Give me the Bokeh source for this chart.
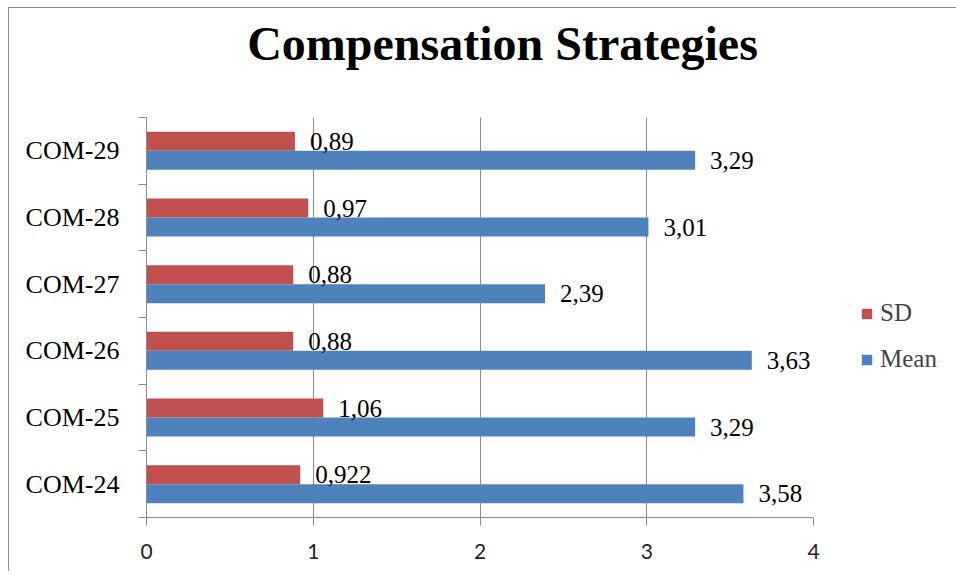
from bokeh.plotting import figure
from bokeh.models import (Range1d, FixedTicker, Legend, LegendItem, ColumnDataSource, Label)
from bokeh.transform import dodge
from bokeh.core.properties import value
from bokeh.embed import file_html
from bokeh.resources import INLINE

# ---- data ----
categories = ["COM-24", "COM-25", "COM-26", "COM-27", "COM-28", "COM-29"]
sd_values = [0.922, 1.06, 0.88, 0.88, 0.97, 0.89]
mean_values = [3.58, 3.29, 3.63, 2.39, 3.01, 3.29]
x_ticks = [0, 1, 2, 3, 4]
series_names = ["SD", "Mean"]
chart_title = "Compensation Strategies"

SERIF = "Liberation Serif"
SD_COLOR = "#C0504D"
MEAN_COLOR = "#4F81BD"
GRID = "#8c8c8c"

def fmt(v):
    return ("%g" % v).replace(".", ",")

n = len(categories)
pos = [i + 0.5 for i in range(n)]
src = ColumnDataSource(dict(
    pos=pos, sd=sd_values, mean=mean_values,
    sd_lbl=[fmt(v) for v in sd_values],
    mean_lbl=[fmt(v) for v in mean_values],
))

# frame extends to the top of the canvas so the title can sit inside it
PLOT_H = 400          # pixels used by the category bands
FRAME_H = 509
y_top = n * FRAME_H / PLOT_H

p = figure(frame_width=667, frame_height=FRAME_H,
           min_border_left=137, min_border_right=135,
           min_border_top=0, min_border_bottom=54,
           x_range=Range1d(0, 4), y_range=Range1d(0, y_top),
           output_backend="svg", toolbar_location=None)
p.title = None
p.styles = {"margin-left": "8px", "margin-top": "7px",
            "border-top": "1px solid #8c8c8c", "border-left": "1px solid #8c8c8c"}
p.outline_line_color = None
p.background_fill_color = "white"
p.border_fill_color = "white"

bar_h = 0.285
r_sd = p.hbar(y=dodge("pos", bar_h / 2, range=p.y_range), right="sd", left=0,
              height=bar_h, source=src, fill_color=SD_COLOR, line_color=None)
r_mean = p.hbar(y=dodge("pos", -bar_h / 2, range=p.y_range), right="mean", left=0,
                height=bar_h, source=src, fill_color=MEAN_COLOR, line_color=None)

p.text(x="sd", y=dodge("pos", bar_h / 2, range=p.y_range), text="sd_lbl", source=src,
       x_offset=15, text_baseline="middle", text_align="left",
       text_font=value(SERIF), text_font_size="25px", text_color="black")
p.text(x="mean", y=dodge("pos", -bar_h / 2, range=p.y_range), text="mean_lbl", source=src,
       x_offset=15, text_baseline="middle", text_align="left",
       text_font=value(SERIF), text_font_size="25px", text_color="black")

# x axis
xa = p.xaxis[0]
xa.ticker = FixedTicker(ticks=x_ticks, minor_ticks=[])
xa.axis_line_color = GRID
xa.major_tick_line_color = GRID
xa.major_tick_out = 8
xa.major_tick_in = 0
xa.minor_tick_line_color = None
xa.major_label_text_font = "Lato"
xa.major_label_text_font_size = "21px"
xa.major_label_text_color = "#222222"
xa.major_label_standoff = 18

# y axis: labels at category centres, ticks at boundaries
ya = p.yaxis[0]
ya.bounds = (0, n)
ya.ticker = FixedTicker(ticks=pos, minor_ticks=list(range(n + 1)))
ya.major_label_overrides = {pos[i]: categories[i] for i in range(n)}
ya.axis_line_color = GRID
ya.major_tick_line_color = None
ya.major_tick_out = 0
ya.major_tick_in = 0
ya.minor_tick_line_color = GRID
ya.minor_tick_out = 8
ya.minor_tick_in = 0
ya.major_label_text_font = SERIF
ya.major_label_text_font_size = "26px"
ya.major_label_text_color = "black"
ya.major_label_standoff = 19

p.xgrid.ticker = FixedTicker(ticks=x_ticks)
p.xgrid.cross_bounds = (0, n)
p.xgrid.grid_line_color = GRID
p.ygrid.grid_line_color = None

# title drawn as a label inside the (extended) frame
p.add_layout(Label(x=356, y=474, x_units="screen", y_units="screen",
                   text=chart_title, text_align="center", text_baseline="alphabetic",
                   text_font=SERIF, text_font_size="48px", text_font_style="bold",
                   text_color="black"))

legend = Legend(items=[LegendItem(label=series_names[0], renderers=[r_sd]),
                       LegendItem(label=series_names[1], renderers=[r_mean])],
                location=(47, 144))
legend.border_line_color = None
legend.background_fill_alpha = 0
legend.padding = 0
legend.margin = 0
legend.glyph_width = 13
legend.glyph_height = 13
legend.label_standoff = 7
legend.label_text_font = SERIF
legend.label_text_font_size = "25px"
legend.label_height = 25
legend.spacing = 18
p.add_layout(legend, "right")

open("out.html", "w").write(file_html(p, INLINE))
